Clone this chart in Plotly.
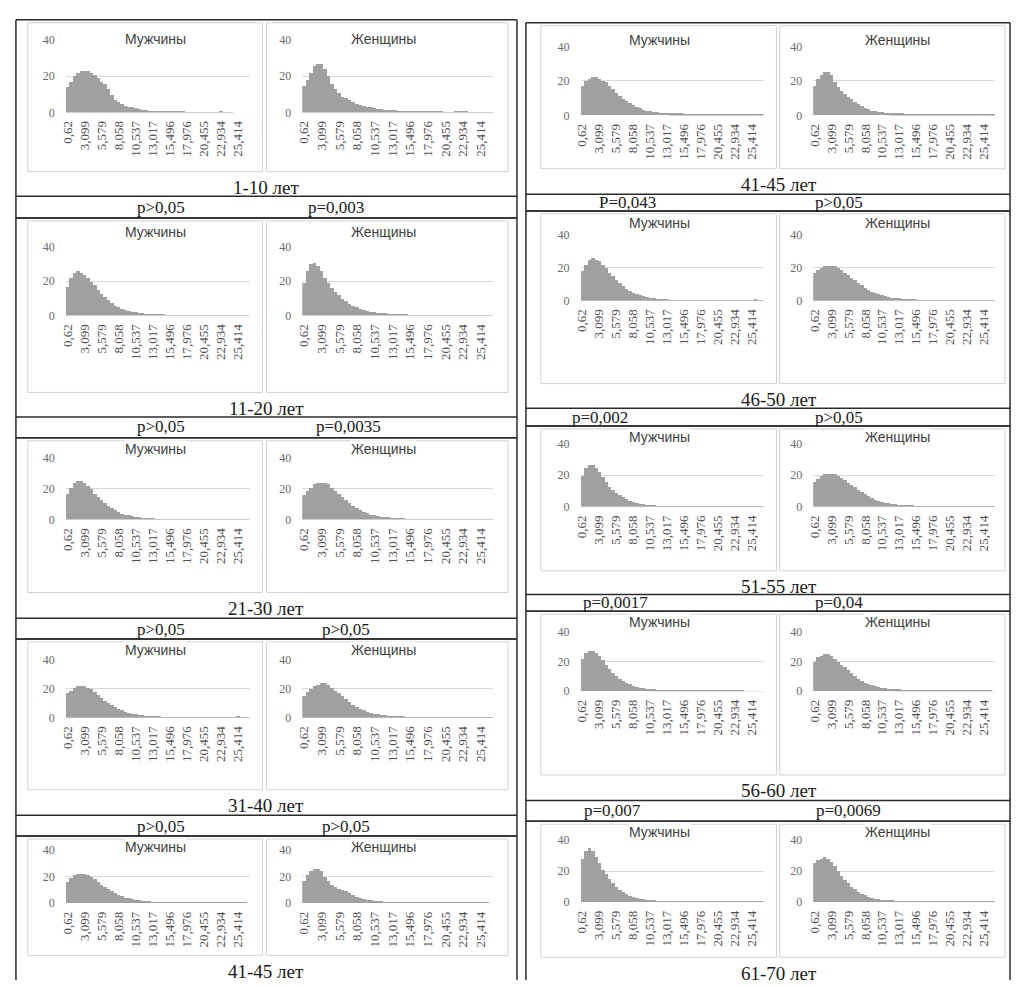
import plotly.graph_objects as go

W, H = 1016, 987

# Histogram bins: 54 bins of width ~0.496, every 5th bin labelled
bin_ticks = ["0,62", "3,099", "5,579", "8,058", "10,537", "13,017",
             "15,496", "17,976", "20,455", "22,934", "25,414"]
n_bins = 54
bin_index = list(range(n_bins))
tick_pos = [i * 5 for i in range(len(bin_ticks))]

# ---- left table: 1-10 ... 41-45 years ----
men_1_10 = [14, 17, 20, 22, 23, 23, 23, 22, 21, 19, 17, 16, 13, 10, 7, 6, 5, 4, 3.5, 3, 2.5, 2, 1.8, 1.5, 1.3, 1.2, 1.0, 0.9, 0.8, 0.8, 0.7, 0.7, 0.6, 0.6, 0.6, 0.5, 0.5, 0.5, 0.5, 0.5, 0.5, 0.5, 0.4, 0.4, 0.5, 0.6, 0.5, 0.4, 0.3, 0, 0, 0, 0, 0]
women_1_10 = [15, 18, 22, 26, 27, 27, 24, 20, 16, 13, 11, 9, 8, 7, 6, 5, 4.5, 4, 3.5, 3, 2.5, 2.2, 2, 1.8, 1.6, 1.5, 1.4, 1.3, 1.2, 1.1, 1.0, 1.0, 0.9, 0.9, 0.8, 0.8, 0.7, 0.7, 0.6, 0.6, 0.5, 0.3, 0.2, 0.6, 0.9, 1.0, 0.8, 0.4, 0.3, 0.3, 0.3, 0.2, 0.2, 0.2]
men_11_20 = [17, 22, 25, 26, 25, 24, 22, 20, 18, 15, 13, 11, 9, 7.5, 6, 5, 4.2, 3.5, 3, 2.5, 2.1, 1.8, 1.6, 1.4, 1.2, 1.1, 1.0, 0.9, 0.9, 0.8, 0.8, 0.7, 0.7, 0.6, 0.6, 0.6, 0.5, 0.5, 0.5, 0.5, 0.4, 0.4, 0.4, 0.4, 0.5, 0.5, 0.4, 0.3, 0.3, 0.3, 0.2, 0.2, 0.2, 0.1]
women_11_20 = [19, 26, 30, 31, 29, 26, 22, 19, 16, 14, 12, 10, 8.5, 7, 6, 5, 4.3, 3.6, 3, 2.6, 2.2, 1.9, 1.7, 1.5, 1.3, 1.2, 1.1, 1.0, 0.9, 0.9, 0.8, 0.8, 0.7, 0.7, 0.6, 0.6, 0.6, 0.5, 0.5, 0.5, 0.5, 0.4, 0.4, 0.4, 0.4, 0.3, 0.3, 0.3, 0.3, 0.2, 0.2, 0.2, 0.2, 0.1]
men_21_30 = [17, 21, 24, 25, 25, 24, 22, 20, 17, 15, 13, 11, 9, 7.5, 6.2, 5, 4.2, 3.5, 3, 2.5, 2.1, 1.8, 1.6, 1.4, 1.2, 1.1, 1.0, 0.9, 0.8, 0.8, 0.7, 0.7, 0.6, 0.6, 0.6, 0.5, 0.5, 0.5, 0.5, 0.4, 0.4, 0.4, 0.4, 0.4, 0.4, 0.3, 0.3, 0.3, 0.3, 0.3, 0.6, 0.4, 0.2, 0.1]
women_21_30 = [16, 19, 21, 23, 24, 24, 24, 23, 21, 19, 17, 15, 13, 11, 9, 7.5, 6.2, 5.2, 4.3, 3.6, 3, 2.6, 2.2, 1.9, 1.7, 1.5, 1.3, 1.2, 1.1, 1.0, 0.9, 0.9, 0.8, 0.8, 0.7, 0.7, 0.6, 0.6, 0.6, 0.5, 0.5, 0.5, 0.5, 0.4, 0.4, 0.4, 0.4, 0.3, 0.3, 0.3, 0.3, 0.2, 0.2, 0.2]
men_31_40 = [17, 19, 21, 22, 22, 22, 21, 20, 18, 16, 14, 12, 10.5, 9, 7.5, 6.3, 5.3, 4.5, 3.8, 3.2, 2.7, 2.3, 2, 1.8, 1.6, 1.4, 1.3, 1.2, 1.1, 1.0, 0.9, 0.9, 0.8, 0.8, 0.7, 0.7, 0.7, 0.6, 0.6, 0.6, 0.5, 0.5, 0.5, 0.5, 0.5, 0.4, 0.4, 0.4, 0.4, 0.3, 1.5, 0.3, 0.2, 0.2]
women_31_40 = [15, 18, 20, 22, 23, 24, 24, 23, 21, 19, 17, 15, 13, 11, 9.2, 7.8, 6.5, 5.4, 4.5, 3.8, 3.2, 2.7, 2.3, 2, 1.8, 1.6, 1.4, 1.3, 1.2, 1.1, 1.0, 0.9, 0.9, 0.8, 0.8, 0.7, 0.7, 0.6, 0.6, 0.6, 0.5, 0.5, 0.5, 0.5, 0.4, 0.4, 0.4, 0.4, 0.3, 0.3, 0.3, 0.3, 0.2, 0.2]
men_41_45_a = [16, 19, 21, 22, 22, 22, 21, 20, 18, 16, 14, 12, 10.5, 9, 7.5, 6.2, 5.1, 4.3, 3.6, 3, 2.5, 2.1, 1.8, 1.6, 1.4, 1.3, 1.2, 1.1, 1.0, 0.9, 0.9, 0.8, 0.8, 0.7, 0.7, 0.7, 0.6, 0.6, 0.6, 0.5, 0.5, 0.5, 0.5, 0.5, 0.4, 0.4, 0.4, 0.4, 0.3, 0.3, 0.3, 0.2, 0.2, 0.1]
women_41_45_a = [17, 21, 24, 26, 26, 24, 20, 17, 14, 12, 11, 10, 9, 7.5, 6, 5, 4, 3.2, 2.6, 2.2, 1.9, 1.7, 1.5, 1.3, 1.2, 1.1, 1.0, 0.9, 0.9, 0.8, 0.8, 0.7, 0.7, 0.7, 0.6, 0.6, 0.6, 0.5, 0.5, 0.5, 0.5, 0.4, 0.4, 0.4, 0.4, 0.4, 0.3, 0.3, 0.3, 0.3, 0.2, 0.2, 0.2, 0.1]

# ---- right table: 41-45 ... 61-70 years ----
men_41_45_b = [17, 20, 21, 22, 22, 21, 20, 19, 17, 15, 13, 11, 9.5, 8, 6.8, 5.6, 4.6, 3.8, 3.1, 2.5, 2.1, 1.8, 1.6, 1.4, 1.3, 1.2, 1.1, 1.0, 0.9, 0.9, 0.8, 0.8, 0.7, 0.7, 0.7, 0.6, 0.6, 0.6, 0.5, 0.5, 0.5, 0.5, 0.5, 0.4, 0.4, 0.4, 0.4, 0.3, 0.3, 0.3, 0.3, 0.2, 0.2, 0.1]
women_41_45_b = [17, 21, 23, 25, 25, 23, 19, 16, 14, 12, 10.5, 9, 7.5, 6.2, 5, 4, 3.2, 2.6, 2.1, 1.8, 1.5, 1.3, 1.2, 1.1, 1.0, 0.9, 0.9, 0.8, 0.8, 0.7, 0.7, 0.7, 0.6, 0.6, 0.6, 0.5, 0.5, 0.5, 0.5, 0.5, 0.4, 0.4, 0.4, 0.4, 0.4, 0.4, 0.4, 0.3, 0.3, 0.3, 0.3, 0.3, 0.2, 0.2]
men_46_50 = [18, 22, 25, 26, 25, 24, 22, 20, 17, 15, 13, 11, 9, 7.5, 6.2, 5, 4.1, 3.4, 2.8, 2.3, 1.9, 1.6, 1.4, 1.2, 1.1, 1.0, 0.9, 0.8, 0.8, 0.7, 0.7, 0.6, 0.6, 0.6, 0.5, 0.5, 0.5, 0.5, 0.4, 0.4, 0.4, 0.4, 0.4, 0.3, 0.3, 0.3, 0.3, 0.3, 0.3, 0.2, 0.2, 1.5, 0.2, 0.1]
women_46_50 = [17, 19, 20, 21, 21, 21, 21, 20, 19, 17, 15.5, 14, 12.5, 11, 9.5, 8, 6.8, 5.7, 4.8, 4, 3.4, 2.9, 2.5, 2.1, 1.8, 1.6, 1.4, 1.3, 1.2, 1.1, 1.0, 0.9, 0.9, 0.8, 0.8, 0.7, 0.7, 0.6, 0.6, 0.6, 0.5, 0.5, 0.5, 0.5, 0.5, 0.4, 0.4, 0.4, 0.4, 0.4, 0.3, 0.3, 0.3, 0.2]
men_51_55 = [20, 25, 27, 27, 25, 22, 19, 16, 13, 11, 9, 7.5, 6.2, 5, 4, 3.2, 2.6, 2.1, 1.8, 1.5, 1.3, 1.1, 1.0, 0.9, 0.8, 0.7, 0.7, 0.6, 0.6, 0.5, 0.5, 0.5, 0.4, 0.4, 0.4, 0.4, 0.3, 0.3, 0.3, 0.3, 0.3, 0.3, 0.2, 0.2, 0.6, 0.2, 0.2, 0.2, 0.2, 0.1, 0.1, 0.1, 0.1, 0.1]
women_51_55 = [16, 18, 20, 21, 21, 21, 21, 20, 18.5, 17, 15.5, 14, 12.5, 11, 9.5, 8, 6.8, 5.7, 4.8, 4, 3.4, 2.9, 2.5, 2.1, 1.8, 1.6, 1.4, 1.3, 1.2, 1.1, 1.0, 0.9, 0.9, 0.8, 0.8, 0.7, 0.7, 0.6, 0.6, 0.6, 0.5, 0.5, 0.5, 0.5, 0.4, 0.4, 0.4, 0.4, 0.4, 0.3, 0.3, 0.3, 0.2, 0.2]
men_56_60 = [22, 26, 27, 27, 26, 24, 21, 18, 15, 12.5, 10.5, 8.5, 7, 5.7, 4.6, 3.7, 3, 2.4, 2, 1.7, 1.4, 1.2, 1.1, 1.0, 0.9, 0.8, 0.7, 0.7, 0.6, 0.6, 0.5, 0.5, 0.5, 0.4, 0.4, 0.4, 0.4, 0.3, 0.3, 0.3, 0.3, 0.3, 0.2, 0.2, 0.2, 0.2, 0.2, 0.2, 0.1, 0.1, 0.1, 0.1, 0.1, 0.1]
women_56_60 = [20, 23, 24, 25, 25, 24, 22, 20, 18, 16, 14, 12, 10, 8.5, 7, 5.8, 4.8, 4, 3.3, 2.7, 2.3, 1.9, 1.7, 1.5, 1.3, 1.2, 1.1, 1.0, 0.9, 0.9, 0.8, 0.8, 0.7, 0.7, 0.6, 0.6, 0.6, 0.5, 0.5, 0.5, 0.5, 0.4, 0.4, 0.4, 0.4, 0.4, 0.3, 0.3, 0.3, 0.3, 0.2, 0.2, 0.2, 0.1]
men_61_70 = [28, 33, 35, 33, 29, 25, 21, 18, 15, 12, 10, 8, 6.5, 5.2, 4.2, 3.4, 2.7, 2.2, 1.8, 1.5, 1.3, 1.1, 1.0, 0.9, 0.8, 0.7, 0.6, 0.6, 0.5, 0.5, 0.5, 0.4, 0.4, 0.4, 0.4, 0.3, 0.3, 0.3, 0.3, 0.3, 0.3, 0.2, 0.2, 0.2, 0.2, 0.2, 0.1, 0.1, 0.1, 0.1, 0.1, 0.1, 0.1, 0.1]
women_61_70 = [25, 27, 28, 29, 28, 26, 23, 20, 17, 14.5, 12, 10, 8.2, 6.7, 5.4, 4.4, 3.5, 2.8, 2.3, 1.9, 1.6, 1.4, 1.2, 1.1, 1.0, 0.9, 0.8, 0.7, 0.7, 0.6, 0.6, 0.5, 0.5, 0.5, 0.4, 0.4, 0.4, 0.4, 0.3, 0.3, 0.3, 0.3, 0.3, 0.2, 0.2, 0.2, 0.2, 0.2, 0.2, 0.1, 0.1, 0.1, 0.1, 0.1]

age_left = ["1-10 лет", "11-20 лет", "21-30 лет", "31-40 лет", "41-45 лет"]
age_right = ["41-45 лет", "46-50 лет", "51-55 лет", "56-60 лет", "61-70 лет"]
p_left_men = ["p>0,05", "p>0,05", "p>0,05", "p>0,05"]
p_left_women = ["p=0,003", "p=0,0035", "p>0,05", "p>0,05"]
p_right_men = ["P=0,043", "p=0,002", "p=0,0017", "p=0,007"]
p_right_women = ["p>0,05", "p>0,05", "p=0,04", "p=0,0069"]

series_left = [(men_1_10, women_1_10), (men_11_20, women_11_20), (men_21_30, women_21_30),
               (men_31_40, women_31_40), (men_41_45_a, women_41_45_a)]
series_right = [(men_41_45_b, women_41_45_b), (men_46_50, women_46_50), (men_51_55, women_51_55),
                (men_56_60, women_56_60), (men_61_70, women_61_70)]

# ---- page geometry (pixels) ----
# each row: top line, chart title y, y of 40 gridline, y of 0 line,
# age label y, separator y, p-value y, bottom line
rows_left = [
    dict(top=13, title=32, y40=33, y0=107, age=183, sep=192, p=203, bottom=214),
    dict(top=214, title=228, y40=243, y0=313, age=407, sep=416, p=426, bottom=437),
    dict(top=437, title=448, y40=457, y0=520, age=610, sep=620, p=631, bottom=641),
    dict(top=641, title=652, y40=662, y0=721, age=810, sep=820, p=831, bottom=841),
    dict(top=841, title=852, y40=855, y0=909, age=978, sep=None, p=None, bottom=None),
]
rows_right = [
    dict(top=16, title=33, y40=40, y0=110, age=180, sep=190, p=198, bottom=207),
    dict(top=207, title=219, y40=231, y0=298, age=398, sep=407, p=416, bottom=425),
    dict(top=425, title=436, y40=443, y0=507, age=588, sep=596, p=604, bottom=613),
    dict(top=613, title=624, y40=634, y0=694, age=795, sep=805, p=815, bottom=826),
    dict(top=826, title=837, y40=845, y0=908, age=980, sep=None, p=None, bottom=None),
]
tables = [
    dict(x0=10, x1=514, rows=rows_left, series=series_left, ages=age_left,
         p_men=p_left_men, p_women=p_left_women, age_x=262,
         boxes=[(22, 258), (262, 505)], plots=[(60, 245), (298, 490)],
         title_x=[150, 380], p_x=[[156, 332], [156, 345], [156, 342], [156, 342]]),
    dict(x0=523, x1=1010, rows=rows_right, series=series_right, ages=age_right,
         p_men=p_right_men, p_women=p_right_women, age_x=778,
         boxes=[(538, 775), (778, 1005)], plots=[(578, 762), (812, 995)],
         title_x=[657, 897], p_x=[[625, 838], [598, 838], [613, 838], [610, 848]]),
]

BAR = "#a0a0a0"
GRID = "#d9d9d9"
LINE = "#2b2b2b"
BOX = "#d2d2d2"
TXT = "#505050"


def fx(v):
    return v / W


def fy(v):
    return 1 - v / H


fig = go.Figure()
layout = {}
shapes = []
annotations = []
k = 0

for t in tables:
    # outer vertical borders of the table
    for xv in (t["x0"], t["x1"]):
        shapes.append(dict(type="line", xref="paper", yref="paper",
                           x0=fx(xv), x1=fx(xv), y0=fy(t["rows"][0]["top"]), y1=0,
                           line=dict(color=LINE, width=1.5)))
    for r, row in enumerate(t["rows"]):
        # horizontal lines
        for yv in (row["top"], row["sep"], row["bottom"]):
            if yv is not None:
                shapes.append(dict(type="line", xref="paper", yref="paper",
                                   x0=fx(t["x0"]), x1=fx(t["x1"]), y0=fy(yv), y1=fy(yv),
                                   line=dict(color=LINE, width=1.5)))
        for c, title in enumerate(["Мужчины", "Женщины"]):
            k += 1
            xa = "x" if k == 1 else f"x{k}"
            ya = "y" if k == 1 else f"y{k}"
            vals = t["series"][r][c]
            fig.add_trace(go.Bar(x=bin_index, y=vals, xaxis=xa, yaxis=ya,
                                 marker=dict(color=BAR, line=dict(width=0)),
                                 showlegend=False, hoverinfo="skip"))
            px0, px1 = t["plots"][c]
            layout["xaxis" if k == 1 else f"xaxis{k}"] = dict(
                domain=[fx(px0), fx(px1)], anchor=ya, range=[-0.5, n_bins - 0.5],
                tickmode="array", tickvals=tick_pos, ticktext=bin_ticks, tickangle=-90,
                showgrid=False, zeroline=False, showline=False, ticks="",
                ticklabelstandoff=5,
                tickfont=dict(family="Liberation Serif", size=13, color=TXT), fixedrange=True)
            layout["yaxis" if k == 1 else f"yaxis{k}"] = dict(
                domain=[fy(row["y0"]), fy(row["y40"])], anchor=xa, range=[0, 40],
                tickmode="array", tickvals=[0, 20, 40], showgrid=True, gridcolor=GRID,
                gridwidth=1, zeroline=False, showline=False, ticks="",
                ticklabelstandoff=10,
                tickfont=dict(family="Liberation Serif", size=12, color="#6a6a6a"), fixedrange=True)
            # chart area border
            bx0, bx1 = t["boxes"][c]
            shapes.append(dict(type="rect", xref="paper", yref="paper",
                               x0=fx(bx0), x1=fx(bx1), y0=fy(row["age"] - 16), y1=fy(row["top"] + 3),
                               line=dict(color=BOX, width=1)))
            annotations.append(dict(text=title, xref="paper", yref="paper",
                                    x=fx(t["title_x"][c]), y=fy(row["title"]),
                                    xanchor="center", yanchor="middle", showarrow=False,
                                    bgcolor="white", borderpad=0,
                                    font=dict(family="Liberation Sans", size=14, color="#404040")))
        annotations.append(dict(text=t["ages"][r], xref="paper", yref="paper",
                                x=fx(t["age_x"]), y=fy(row["age"]), xanchor="center", yanchor="middle",
                                showarrow=False,
                                font=dict(family="Liberation Serif", size=19, color="#1a1a1a")))
        if row["p"] is not None:
            for c, ptxt in enumerate([t["p_men"][r], t["p_women"][r]]):
                annotations.append(dict(text=ptxt, xref="paper", yref="paper",
                                        x=fx(t["p_x"][r][c]), y=fy(row["p"]),
                                        xanchor="center", yanchor="middle", showarrow=False,
                                        font=dict(family="Liberation Serif", size=17, color="#1a1a1a")))

fig.update_layout(width=W, height=H, margin=dict(l=0, r=0, t=0, b=0),
                  paper_bgcolor="white", plot_bgcolor="white", bargap=0,
                  shapes=shapes, annotations=annotations, **layout)
fig.write_html("out.html")
